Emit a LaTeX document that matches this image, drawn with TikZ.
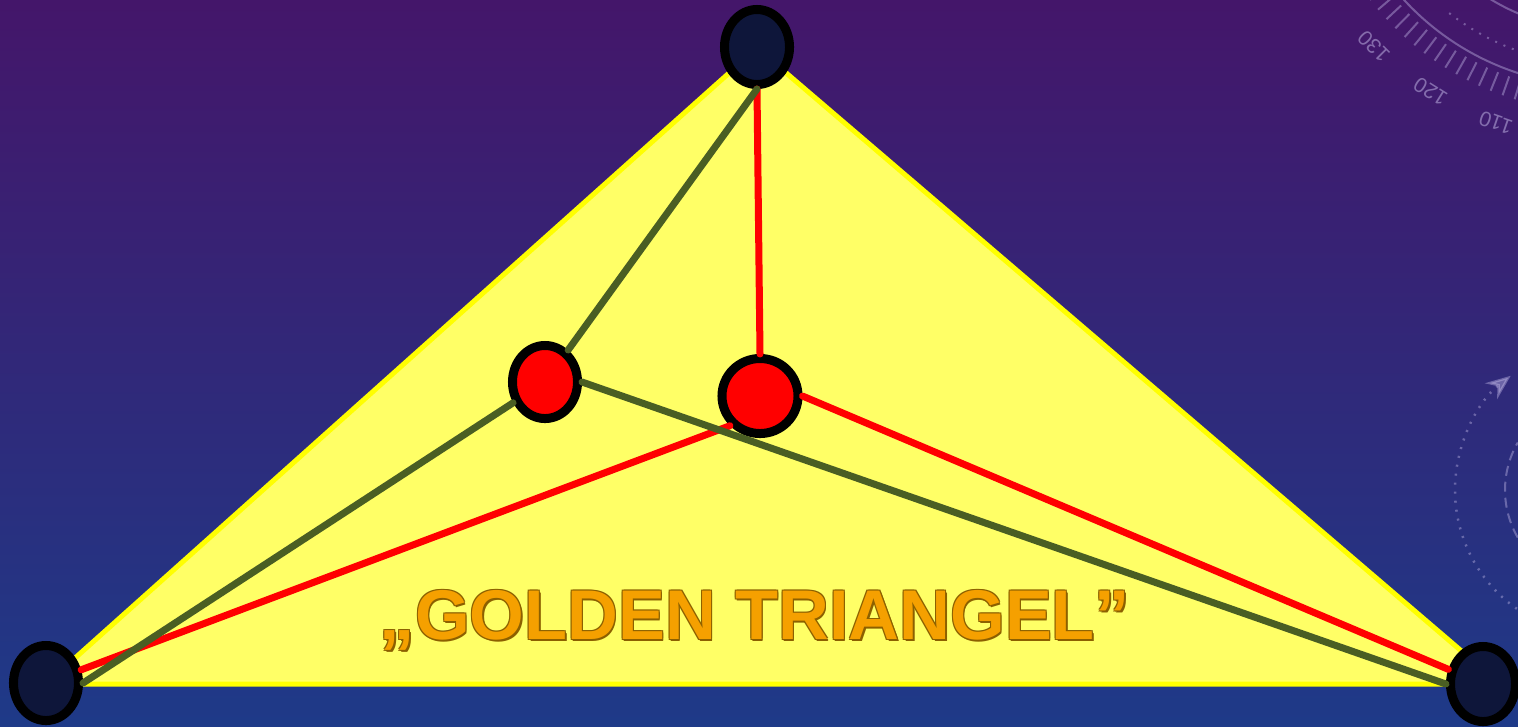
\documentclass[tikz,border=0pt]{standalone}
\usepackage{fontspec}
\newfontfamily\titlefont{Liberation Sans}
\usetikzlibrary{shapes.geometric,arrows.meta,calc}
\definecolor{skytop}{RGB}{68,22,106}
\definecolor{skybot}{RGB}{30,58,136}
\definecolor{trifill}{RGB}{255,255,102}
\definecolor{triedge}{RGB}{255,255,0}
\definecolor{hubnavy}{RGB}{14,22,58}
\definecolor{linkgreen}{RGB}{74,94,35}
\definecolor{linkred}{RGB}{255,0,0}
\definecolor{goldtext}{RGB}{245,160,0}
\definecolor{goldedge}{RGB}{140,96,0}
\definecolor{dialline}{RGB}{200,190,235}

\begin{document}
\begin{tikzpicture}[x=0.01cm, y=-0.01cm,
    corner/.style={ellipse, draw=black, fill=hubnavy, line width=0.09cm,
        minimum width=0.65cm, minimum height=0.75cm, inner sep=0pt},
    inner/.style={ellipse, draw=black, fill=linkred, line width=0.09cm,
        minimum width=0.65cm, minimum height=0.73cm, inner sep=0pt},
    greenlink/.style={draw=linkgreen, line width=0.07cm, line cap=round},
    redlink/.style={draw=linkred, line width=0.07cm, line cap=round},
    decor/.style={draw=dialline, opacity=0.4, line width=0.02cm},
    dialnum/.style={text=dialline, opacity=0.5, inner sep=0pt,
        font=\titlefont\fontsize{6}{7}\selectfont},
    title/.style={font=\titlefont\bfseries\fontsize{20}{24}\selectfont,
        inner sep=0pt, anchor=base},
    >=Stealth
]
\clip (0,0) rectangle (1518,726);
\shade[top color=skytop, bottom color=skybot] (0,0) rectangle (1518,726);

% dial in the corner
\coordinate (dialc) at (1600,-180);
\draw[decor] (dialc) ++(150:266) arc[start angle=150, end angle=88, radius=266];
\draw[decor] (dialc) ++(130:210) arc[start angle=130, end angle=88, radius=210];
\draw[decor, dotted] (dialc) ++(128:245) arc[start angle=128, end angle=88, radius=245];
\foreach \a in {92,94.5,...,156}
    \draw[decor] (dialc) ++(\a:272) -- ++(\a:20);
\foreach \n/\a in {130/135,120/122,110/109} {
    \node[dialnum, rotate=270-\a] (numa\n) at ($(dialc)+(\a:320)$) {\n};
}

% arc on the right
\coordinate (ringc) at (1600,490);
\draw[decor, dotted, line width=0.025cm, -{Stealth[length=0.25cm, width=0.2cm]}]
    (ringc) ++(125:145) arc[start angle=125, end angle=232, radius=145];
\draw[decor, dash pattern=on 0.1cm off 0.06cm]
    (ringc) ++(150:95) arc[start angle=150, end angle=210, radius=95];

\coordinate (tl) at (46,684);
\coordinate (tr) at (1500,684);
\coordinate (tt) at (757,48);
\filldraw[fill=trifill, draw=triedge, line width=0.05cm] (tl) -- (tt) -- (tr) -- cycle;

\node[corner] (apex) at (757,47) {};
\node[corner] (west) at (46,683) {};
\node[corner] (east) at (1483,684) {};
\node[inner] (innerL) at (545,382) {};
\node[inner, minimum width=0.76cm, minimum height=0.75cm] (innerR) at (760,396) {};

\draw[redlink] (apex.south) -- (innerR.north);
\draw[redlink] (innerR.south west) -- (west);
\draw[redlink] (innerR.east) -- (east);
\draw[greenlink] (apex.south) -- (innerL);
\draw[greenlink] (innerL) -- (west.east);
\draw[greenlink] (innerL.east) -- (east.west);

\foreach \dx/\dy [count=\i] in {1/1,-1/1,1/-1,-1/-1,1.5/2}
    \node[title, text=goldedge] (shade\i) at (755+\dx,639+\dy) {„GOLDEN TRIANGEL”};
\node[title, text=goldtext] (caption) at (755,639) {„GOLDEN TRIANGEL”};
\end{tikzpicture}
\end{document}
